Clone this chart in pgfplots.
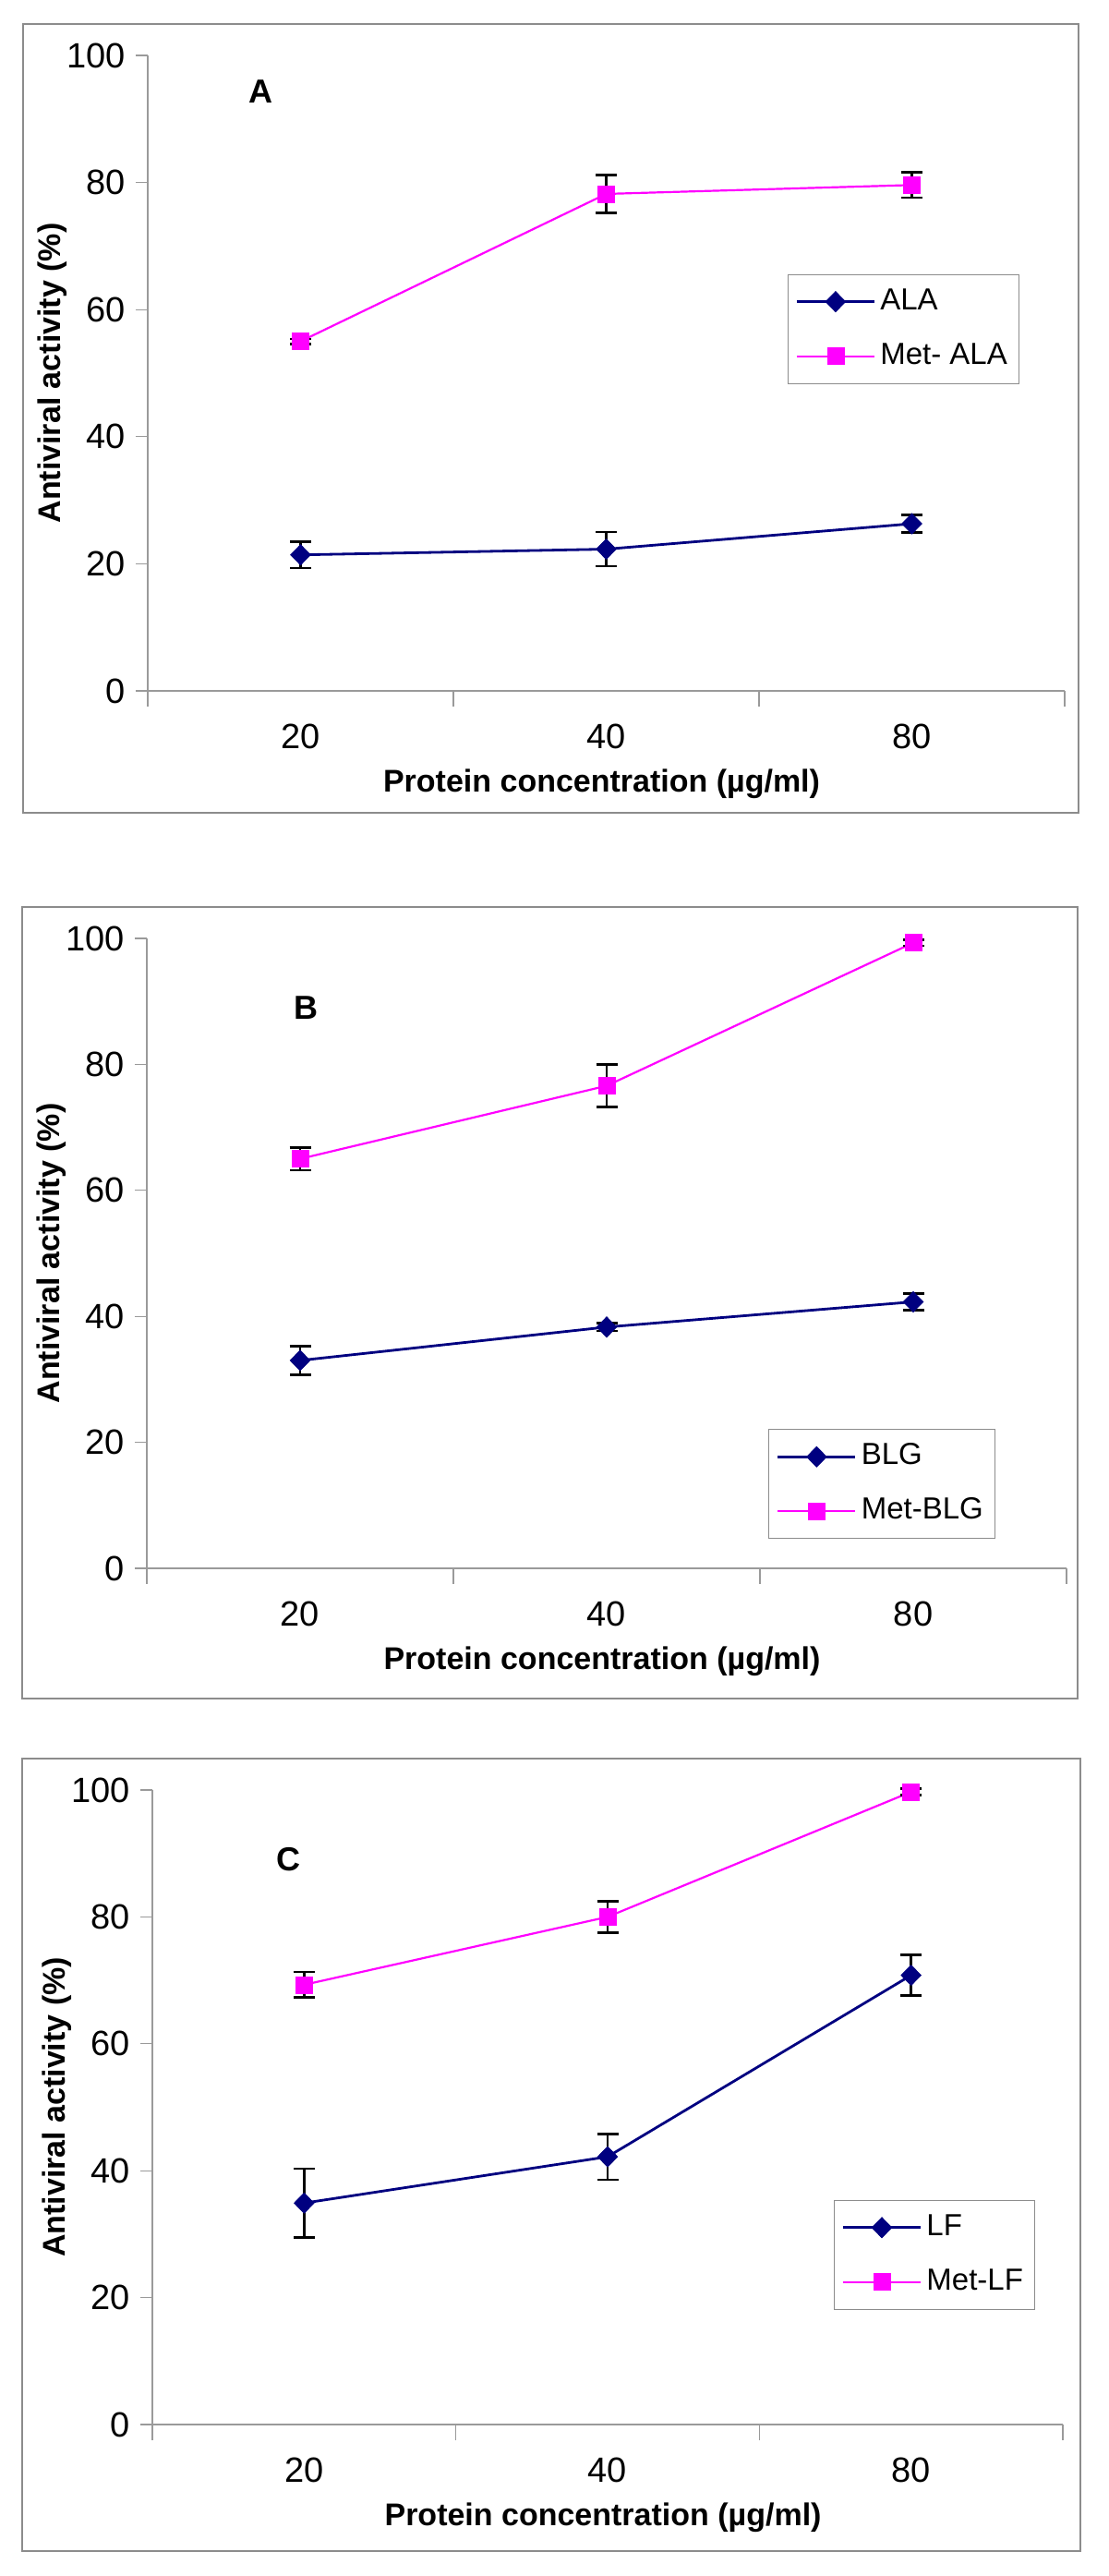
\documentclass[border=0pt]{standalone}
\usepackage{fontspec}
\setmainfont{Liberation Sans}
\usepackage{pgfplots}
\pgfplotsset{compat=1.18}
\definecolor{navy}{HTML}{000080}
\definecolor{pink}{HTML}{FF00FF}
\definecolor{axgray}{HTML}{9A9A9A}
\definecolor{framegray}{HTML}{8C8C8C}
\tikzset{letter/.style={font=\fontsize{18}{20}\selectfont\bfseries}}

\pgfplotsset{
  panel/.style={
    scale only axis, anchor=south west,
    xmin=-0.5, xmax=2.5, ymin=0, ymax=100,
    axis lines*=left,
    axis line style={draw=axgray, line width=0.6pt},
    xtick={0,1,2}, xticklabels={20,40,80},
    major x tick style={draw=none},
    minor xtick={-0.5,0.5,1.5,2.5},
    minor x tick style={draw=axgray, line width=0.6pt},
    ytick={0,20,40,60,80,100},
    y tick style={draw=axgray, line width=0.6pt},
    tick align=outside, major tick length=6.5pt, minor tick length=8.5pt,
    /pgf/number format/assume math mode=true,
    tick label style={font=\fontsize{19}{21}\selectfont},
    xticklabel style={yshift=-8pt},
    yticklabel style={xshift=-2pt},
    every axis x label/.style={at={(axis description cs:0.495,0)}, yshift=-50.5pt, anchor=center,
      font=\fontsize{17}{19}\selectfont\bfseries},
    every axis y label/.style={at={(axis description cs:0,0.5)}, xshift=-51.5pt, rotate=90, anchor=center,
      font=\fontsize{17}{19}\selectfont\bfseries},
    xlabel={Protein concentration (µg/ml)},
    ylabel={Antiviral activity (\%)},
    legend cell align=left,
    legend style={draw=framegray, line width=0.5pt, fill=white, anchor=north east,
      font=\fontsize{16.5}{18}\selectfont, row sep=14pt, inner xsep=4pt, inner ysep=7pt,
      nodes={inner xsep=2.5pt, inner ysep=0pt, text height=12pt, text depth=3.5pt}},
    legend image code/.code={\draw[mark repeat=2, mark phase=2]
      plot coordinates {(0pt,0pt) (21pt,0pt) (42pt,0pt)};},
    clip=false,
    error bars/y dir=both, error bars/y explicit,
    error bars/error bar style={black, line width=1.2pt},
    error bars/error mark options={black, rotate=90, mark size=5.75pt, line width=1.3pt},
  },
  nat/.style={navy, line width=1.4pt, mark=diamond*,
    mark options={fill=navy, draw=navy, mark size=5.5pt, xscale=1.3, line width=0.4pt}},
  met/.style={pink, line width=1.1pt, mark=square*,
    mark options={fill=pink, draw=pink, mark size=4.5pt, line width=0.4pt}},
}

\begin{document}
\begin{tikzpicture}
\path[use as bounding box] (0,0) rectangle (600pt,1394.5pt);
\draw[framegray, line width=0.6pt] (12.5pt,954.5pt) rectangle (584pt,1381.5pt);
\draw[framegray, line width=0.6pt] (12pt,475pt) rectangle (583.5pt,903.5pt);
\draw[framegray, line width=0.6pt] (12pt,13.5pt) rectangle (585pt,442.5pt);

% panel A
\begin{axis}[panel, at={(80pt,1020.5pt)}, width=496.5pt, height=344pt,
  legend style={at={(0.951,0.656)}}]
\addplot+[nat] coordinates {(0,21.4) +- (0,2.05) (1,22.3) +- (0,2.7) (2,26.3) +- (0,1.35)};
\addlegendentry{ALA}
\addplot+[met] coordinates {(0,55.0) +- (0,0.4) (1,78.2) +- (0,3.0) (2,79.6) +- (0,2.0)};
\addlegendentry{Met- ALA}
\node[letter] at (axis cs:-0.13,94.3) {A};
\end{axis}

% panel B
\begin{axis}[panel, at={(79.5pt,545.5pt)}, width=498pt, height=341pt,
  legend style={at={(0.923,0.221)}}]
\addplot+[nat] coordinates {(0,33.0) +- (0,2.3) (1,38.3) +- (0,0.6) (2,42.3) +- (0,1.35)};
\addlegendentry{BLG}
\addplot+[met] coordinates {(0,65.0) +- (0,1.8) (1,76.6) +- (0,3.4) (2,99.3) +- (0,0.5)};
\addlegendentry{Met-BLG}
\node[letter] at (axis cs:0.02,89.0) {B};
\end{axis}

% panel C
\begin{axis}[panel, at={(82.5pt,82pt)}, width=493pt, height=343.5pt,
  legend style={at={(0.970,0.354)}}]
\addplot+[nat] coordinates {(0,34.9) +- (0,5.4) (1,42.2) +- (0,3.6) (2,70.8) +- (0,3.2)};
\addlegendentry{LF}
\addplot+[met] coordinates {(0,69.3) +- (0,2.0) (1,80.0) +- (0,2.5) (2,99.7) +- (0,0.5)};
\addlegendentry{Met-LF}
\node[letter] at (axis cs:-0.05,89.1) {C};
\end{axis}
\end{tikzpicture}
\end{document}
